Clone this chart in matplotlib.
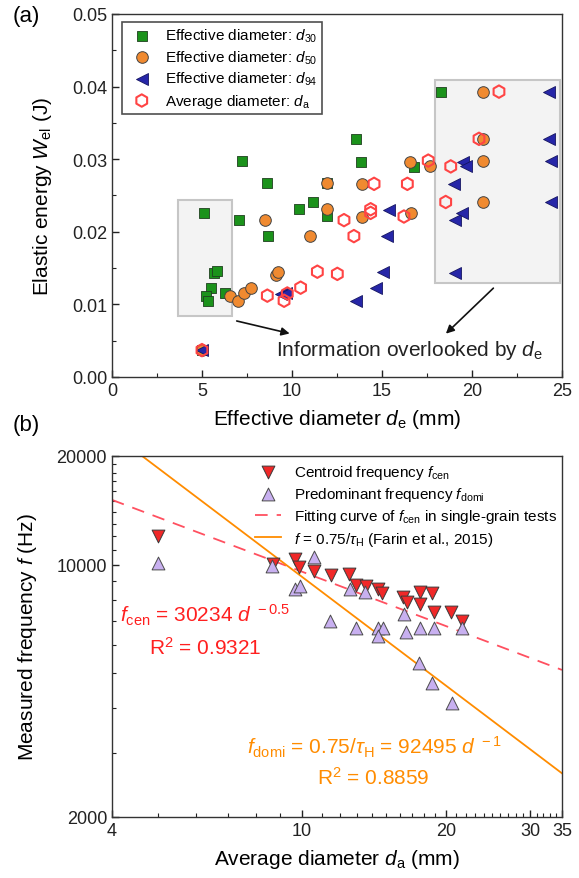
import numpy as np
import matplotlib
matplotlib.use('Agg')
import matplotlib.pyplot as plt
from matplotlib.patches import Rectangle
from matplotlib.ticker import NullFormatter, FixedLocator

plt.rcParams['font.family'] = ['Liberation Sans', 'DejaVu Sans']
plt.rcParams['mathtext.fontset'] = 'custom'
plt.rcParams['mathtext.rm'] = 'Liberation Sans'
plt.rcParams['mathtext.it'] = 'Liberation Sans:italic'
plt.rcParams['mathtext.bf'] = 'Liberation Sans:bold'

# ---- panel (a): elastic energy vs effective diameter ----
d30_x = [5.0, 5.11, 5.67, 5.81, 5.48, 5.20, 5.31, 6.28, 7.20, 7.06, 8.59, 8.69,
         10.39, 11.15, 11.93, 11.93, 13.85, 16.78, 13.54, 18.30]
d30_y = [0.0037, 0.0226, 0.0143, 0.0146, 0.0123, 0.0112, 0.0105, 0.0115, 0.0298, 0.0216,
         0.0267, 0.0194, 0.0231, 0.0241, 0.0222, 0.0267, 0.0296, 0.0289, 0.0328, 0.0393]

d50_x = [5.0, 6.56, 7.02, 7.33, 7.72, 8.48, 9.09, 9.24, 10.98, 11.93, 11.93, 13.91,
         13.91, 16.56, 16.59, 17.67, 20.63, 20.63, 20.61, 20.61]
d50_y = [0.0037, 0.0112, 0.0105, 0.0115, 0.0123, 0.0216, 0.0141, 0.0145, 0.0194, 0.0231,
         0.0267, 0.0221, 0.0266, 0.0296, 0.0226, 0.0290, 0.0298, 0.0241, 0.0393, 0.0328]

d94_x = [5.0, 9.37, 9.68, 13.54, 14.65, 15.07, 15.30, 15.39, 19.00, 19.06, 19.46,
         19.06, 19.50, 19.65, 24.37, 24.37, 24.30, 24.30]
d94_y = [0.0037, 0.0114, 0.0115, 0.0105, 0.0122, 0.0145, 0.0194, 0.0230, 0.0266, 0.0216,
         0.0226, 0.0143, 0.0296, 0.0290, 0.0298, 0.0241, 0.0393, 0.0328]

da_x = [5.0, 8.63, 9.56, 9.74, 10.48, 11.41, 12.52, 12.89, 13.44, 14.37, 14.37, 14.56,
        16.22, 16.41, 17.57, 18.54, 18.82, 21.50, 20.39]
da_y = [0.0037, 0.0112, 0.0105, 0.0115, 0.0123, 0.0145, 0.0142, 0.0216, 0.0194, 0.0231,
        0.0226, 0.0266, 0.0221, 0.0266, 0.0298, 0.0241, 0.0290, 0.0393, 0.0328]

# ---- panel (b): frequency vs average diameter ----
cen_x = [5.00, 8.70, 9.66, 9.85, 10.59, 11.49, 12.54, 12.97, 13.58, 14.44, 14.68,
         16.30, 16.56, 17.66, 18.68, 17.66, 18.88, 20.47, 21.58]
cen_f = [12030, 10040, 10370, 9870, 9585, 9360, 9420, 8800, 8740, 8560, 8350,
         8150, 7870, 8390, 8350, 7780, 7410, 7380, 7000]

domi_x = [5.00, 8.67, 9.66, 9.88, 10.59, 11.44, 12.60, 12.97, 13.54, 14.44, 14.75,
          14.44, 16.35, 16.50, 17.66, 18.88, 21.58, 17.60, 18.68, 20.56]
domi_f = [10100, 9930, 8560, 8740, 10480, 6980, 8560, 6660, 8390, 6680, 6660,
          6350, 7280, 6525, 6660, 6660, 6660, 5340, 4700, 4140]

cen_coef, cen_exp = 30234, -0.5      # single-grain fit of f_cen
domi_coef, domi_exp = 92495, -1.0    # f = 0.75 / tau_H

fig = plt.figure(figsize=(5.79, 8.79), dpi=100)

# ================= (a) =================
ax1 = fig.add_axes([0.1934, 0.570, 0.7772, 0.413])
ax1.add_patch(Rectangle((3.68, 0.0084), 2.97, 0.0160, facecolor='#f3f3f3',
                        edgecolor='#c6c6c6', lw=1.5, zorder=1))
ax1.add_patch(Rectangle((17.94, 0.0130), 6.96, 0.0279, facecolor='#f3f3f3',
                        edgecolor='#c6c6c6', lw=1.5, zorder=1))

ax1.scatter(d30_x, d30_y, marker='s', s=52, c='#1b921b', edgecolors='#1f3f1f',
            linewidths=0.6, zorder=3, label='Effective diameter: $d_{30}$')
ax1.scatter(d50_x, d50_y, marker='o', s=70, c='#f08a30', edgecolors='#444444',
            linewidths=0.7, zorder=3, label='Effective diameter: $d_{50}$')
ax1.scatter(d94_x, d94_y, marker='<', s=74, c='#2626a8', edgecolors='#141460',
            linewidths=0.6, zorder=3, label='Effective diameter: $d_{94}$')
ax1.scatter(da_x, da_y, marker='h', s=80, facecolors='none', edgecolors='#ff4444',
            linewidths=1.5, zorder=4, label='Average diameter: $d_\\mathrm{a}$')

ax1.annotate('', xy=(10.02, 0.0059), xytext=(6.78, 0.0078),
             arrowprops=dict(arrowstyle='-|>', color='#111111', lw=1.2, mutation_scale=12))
ax1.annotate('', xy=(18.44, 0.0057), xytext=(21.3, 0.0125),
             arrowprops=dict(arrowstyle='-|>', color='#111111', lw=1.2, mutation_scale=12))
ax1.text(9.1, 0.0038, 'Information overlooked by $d_\\mathrm{e}$', fontsize=15,
         ha='left', va='center', color='#222222')

ax1.set_xlim(0, 25)
ax1.set_ylim(0, 0.05)
ax1.set_xticks([0, 5, 10, 15, 20, 25])
ax1.set_xticks([2.5, 7.5, 12.5, 17.5, 22.5], minor=True)
ax1.set_yticks([0, 0.01, 0.02, 0.03, 0.04, 0.05])
ax1.set_yticks([0.005, 0.015, 0.025, 0.035, 0.045], minor=True)
ax1.set_yticklabels(['0.00', '0.01', '0.02', '0.03', '0.04', '0.05'])
ax1.set_xlabel('Effective diameter $d_\\mathrm{e}$ (mm)', fontsize=15, labelpad=6)
ax1.set_ylabel('Elastic energy $W_\\mathrm{el}$ (J)', fontsize=15, labelpad=13)

leg1 = ax1.legend(loc='upper left', bbox_to_anchor=(0.022, 0.978), fontsize=11,
                  frameon=True, fancybox=False, edgecolor='#222222',
                  borderaxespad=0, handletextpad=0.5, borderpad=0.3,
                  labelspacing=0.28, handlelength=2.0)
leg1.get_frame().set_linewidth(1.2)

# ================= (b) =================
ax2 = fig.add_axes([0.1934, 0.0694, 0.7772, 0.4107])
xx = np.geomspace(4, 35, 200)
ax2.scatter(cen_x, cen_f, marker='v', s=85, c='#f02828', edgecolors='#3a3a3a',
            linewidths=0.7, zorder=3, label='Centroid frequency $f_\\mathrm{cen}$')
ax2.scatter(domi_x, domi_f, marker='^', s=85, c='#c8b0f0', edgecolors='#4a4a4a',
            linewidths=0.7, zorder=3, label='Predominant frequency $f_\\mathrm{domi}$')
ax2.plot(xx, cen_coef * xx ** cen_exp, color='#ff5060', lw=1.3, ls=(0, (7, 5)),
         zorder=2, label='Fitting curve of $f_\\mathrm{cen}$ in single-grain tests')
ax2.plot(xx, domi_coef * xx ** domi_exp, color='#ff8c00', lw=1.3, zorder=2,
         label='$f$ = 0.75/$\\tau_\\mathrm{H}$ (Farin et al., 2015)')

ax2.set_xscale('log')
ax2.set_yscale('log')
ax2.set_xlim(4, 35)
ax2.set_ylim(2000, 20000)
ax2.xaxis.set_major_locator(FixedLocator([4, 10, 20, 30, 35]))
ax2.xaxis.set_minor_locator(FixedLocator([v for v in range(5, 35) if v not in (10, 20, 30)]))
ax2.set_xticklabels(['4', '10', '20', '30', '35'])
ax2.xaxis.set_minor_formatter(NullFormatter())
ax2.yaxis.set_major_locator(FixedLocator([2000, 10000, 20000]))
ax2.yaxis.set_minor_locator(FixedLocator(list(range(3000, 10000, 1000)) + list(range(11000, 20000, 1000))))
ax2.set_yticklabels(['2000', '10000', '20000'])
ax2.yaxis.set_minor_formatter(NullFormatter())
ax2.set_xlabel('Average diameter $d_\\mathrm{a}$ (mm)', fontsize=15, labelpad=6)
ax2.set_ylabel('Measured frequency $f$ (Hz)', fontsize=15, labelpad=13)

ax2.text(6.27, 7300, '$f_\\mathrm{cen}$ = 30234 $d^{\\ -0.5}$', fontsize=15,
         color='#ff2020', ha='center', va='center')
ax2.text(6.27, 5913, 'R$^2$ = 0.9321', fontsize=15, color='#ff2020',
         ha='center', va='center')
ax2.text(14.17, 3145, '$f_\\mathrm{domi}$ = 0.75/$\\tau_\\mathrm{H}$ = 92495 $d^{\\ -1}$',
         fontsize=15, color='#ff8c00', ha='center', va='center')
ax2.text(14.1, 2580, 'R$^2$ = 0.8859', fontsize=15, color='#ff8c00',
         ha='center', va='center')

ax2.legend(loc='upper right', bbox_to_anchor=(1.005, 1.0), fontsize=11, frameon=False,
           borderaxespad=0.2, handletextpad=0.9, borderpad=0.25, labelspacing=0.28,
           handlelength=1.7)

for ax in (ax1, ax2):
    for sp in ax.spines.values():
        sp.set_color('#333333')
        sp.set_linewidth(1.0)
    ax.tick_params(which='both', direction='in', top=False, right=False,
                   labelsize=13, colors='#222222')
    ax.tick_params(which='major', length=5, width=1.0)
    ax.tick_params(which='minor', length=3, width=0.8)

fig.text(0.022, 0.981, '(a)', fontsize=16, va='center', ha='left')
fig.text(0.022, 0.516, '(b)', fontsize=16, va='center', ha='left')

fig.savefig('out.png', dpi=100)
